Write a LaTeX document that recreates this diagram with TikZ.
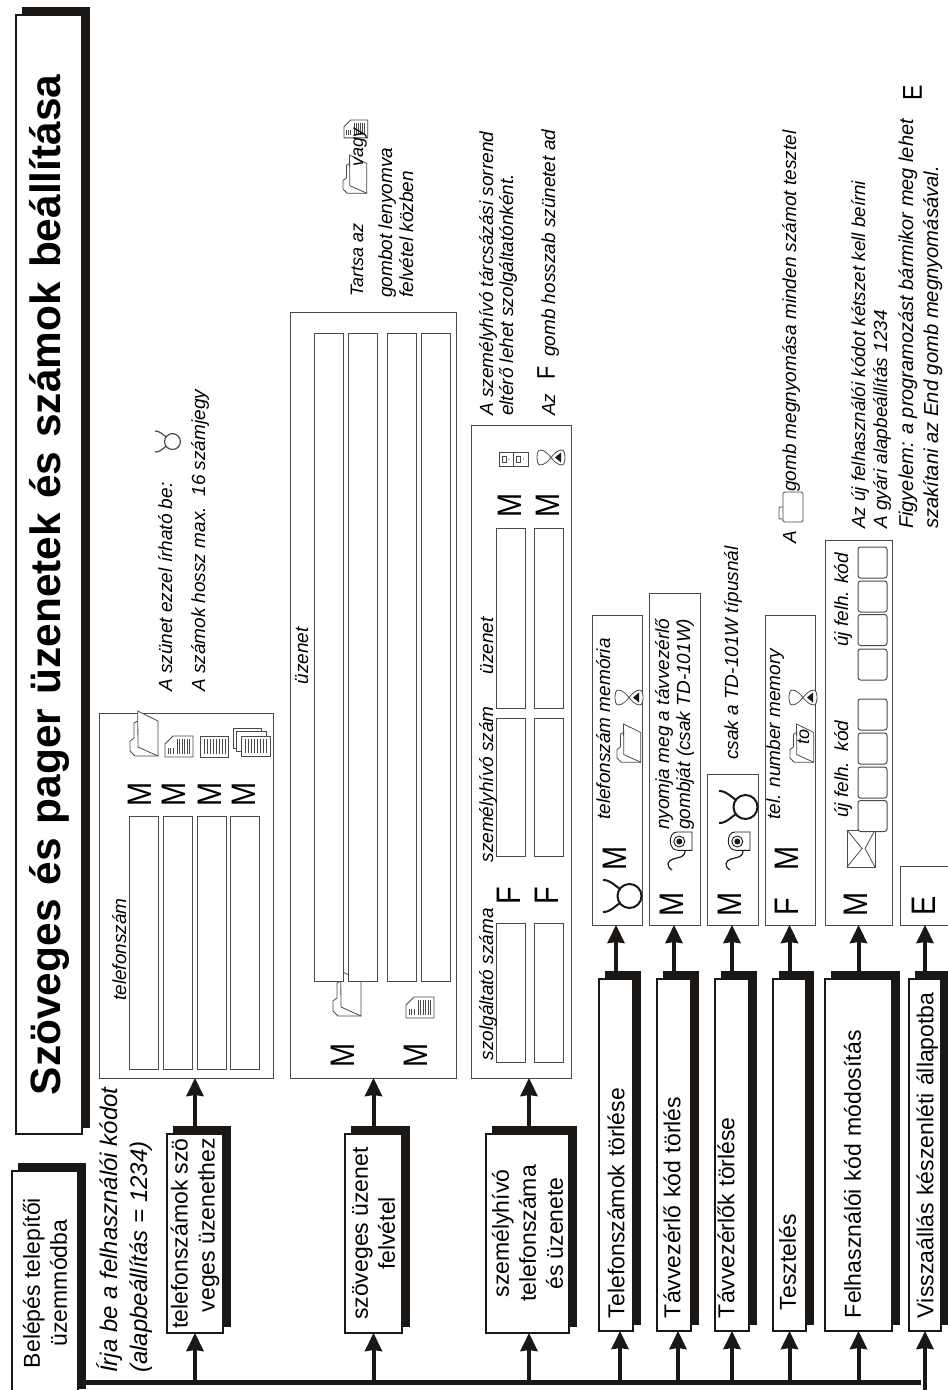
\documentclass[tikz,border=0pt]{standalone}
\usepackage{fontspec}
\setmainfont{Liberation Sans}
\usetikzlibrary{arrows.meta}
\definecolor{ink}{HTML}{1A1715}
\definecolor{rule}{HTML}{4A4A48}
\begin{document}
\begin{tikzpicture}
[
    x=1pt, y=-1pt,
    bigbox/.style={rotate=90, draw=ink, fill=white, line width=1.3, inner sep=0, outer sep=0,
        preaction={fill=ink, draw=ink, transform canvas={xshift=7pt, yshift=7pt}},
        font=\fontsize{23}{27}\selectfont, align=center},
    longbox/.style={bigbox, minimum height=34, inner xsep=13, text width=326, align=left,
        text height=16.5, text depth=0},
    panel/.style={draw=rule, fill=white, line width=1, inner sep=0, outer sep=0},
    slot/.style={panel, minimum width=29},
    cell/.style={panel, rounded corners=2.5, minimum width=29, minimum height=31},
    keycap/.style={rotate=90, xscale=.85, inner sep=0, font=\fontsize{34}{34}\selectfont},
    note/.style={rotate=90, anchor=base west, inner sep=0, font=\itshape\fontsize{19}{23}\selectfont},
    noteend/.style={note, anchor=base east},
    bus/.style={draw=ink, line width=5},
    arr/.style={draw=ink, line width=4, -{Stealth[length=18pt, width=17pt, inset=1pt]}},
    icon/.style={draw=rule, line width=.8},
    bullink/.style={draw=ink, line width=2},
    folderpic/.pic={
        \draw[icon, fill=white] (7.7,10) -- (4,12) -- (4,27) -- (0,30) -- (0,40) -- (5,45) -- (28,45);
        \draw[icon, fill=white] (7.7,0) -- (28,10) -- (28,45) -- (8,36) -- cycle;},
    pagepic/.pic={
        \draw[icon] (0,8) -- (8,0) -- (28,0) -- (28,21) -- (0,21) -- cycle;
        \foreach \i in {12,14.5,17,19.5,22,24.5} \draw[icon] (\i,3) -- (\i,18);
        \foreach \i in {3,5.5,8} \draw[icon] (\i,12) -- (\i,18);},
    barspic/.pic={
        \draw[icon] (0,0) rectangle (28,21);
        \foreach \i in {4,7,10,13,16,19,22,25} \draw[icon] (\i,3) -- (\i,18);},
    stackpic/.pic={
        \draw[icon, fill=white] (0,0) rectangle (28,20);
        \draw[icon, fill=white] (3.5,3.5) rectangle (33,23.5);
        \draw[icon, fill=white] (8,8) rectangle (37,28);
        \foreach \i in {12,15,18,21,24,27,30,33} \draw[icon] (\i,11) -- (\i,25);},
    bullpic/.pic={
        \draw[bullink] (26.5,16) circle (12);
        \draw[bullink] (0,0) .. controls (8,0) and (12,6) .. (17,9);
        \draw[bullink] (0,32) .. controls (8,32) and (12,26) .. (17,23);},
    hourpic/.pic={
        \draw[icon, fill=white] (3,0) .. controls (8,0) and (12,5) .. (14,7.5)
            .. controls (16,5) and (20,0) .. (25,0) .. controls (29,0) and (29,15) .. (25,15)
            .. controls (20,15) and (16,10) .. (14,7.5) .. controls (12,10) and (8,15) .. (3,15)
            .. controls (-1,15) and (-1,0) .. (3,0);
        \fill[ink] (18,7.5) -- (24,2.5) -- (24,12.5) -- cycle;},
    dualpic/.pic={
        \draw[icon] (0,0) rectangle (29,14);
        \draw[icon] (14.5,0) -- (14.5,14);
        \draw[icon] (3,4) rectangle (7,10);
        \draw[icon] (17.5,4) rectangle (21.5,10);
        \fill[rule] (10,7) circle (.7);
        \fill[rule] (24.5,7) circle (.7);},
    remotepic/.pic={
        \draw[draw=ink, line width=.9] (25,0) -- (10,0) .. controls (5,0) and (3.3,5) .. (3.3,9)
            .. controls (3.3,14) and (6,18.3) .. (11,18.3) -- (25,18.3) -- cycle;
        \draw[draw=ink, line width=.9] (12.3,9.5) circle (5.5);
        \fill[ink] (12.3,9.5) circle (3);
        \draw[draw=ink, line width=1.2] (18,18.3) .. controls (18,26) and (12,25) .. (6,27)
            .. controls (0,29) and (-1,34) .. (5,38);},
    envelopepic/.pic={
        \draw[icon] (0,0) rectangle (28,37);
        \draw[icon] (0,0) -- (15,18.5) -- (0,37);
        \draw[icon] (28,0) -- (18,18.5) -- (28,37);},
    buttonpic/.pic={
        \draw[icon, rounded corners=1.5] (4,0) rectangle (24,30);
        \draw[icon, rounded corners=1] (4,15) -- (0,15) -- (0,27) -- (4,27);},
]
\useasboundingbox (0,0) rectangle (948,1390);
\node [bigbox, minimum width=1119, minimum height=66, inner xsep=39, text width=1041, align=left,
    font=\bfseries\fontsize{42.4}{46}\selectfont] (title) at (49,574.5)
{\raisebox{-2pt}{Szöveges és pager üzenetek és számok beállítása}};
\node [bigbox, minimum width=224, minimum height=66] (entry) at (45,1283)
{Belépés telepítői\\üzemmódba};
\node [note, font=\itshape\fontsize{24}{28}\selectfont] (askline) at (117,1373) {Írja be a felhasználói kódot};
\node [note, font=\itshape\fontsize{24}{28}\selectfont] (askcode) at (147,1373) {(alapbeállítás = 1234)};
\node [bigbox, minimum width=199, minimum height=56, align=right] (bnums) at (195,1233.5)
{telefonszámok szö\\veges üzenethez};
\node [bigbox, minimum width=199, minimum height=57] (btext) at (373.5,1233.5)
{szöveges üzenet\\felvétel};
\node [bigbox, minimum width=199, minimum height=83] (bpager) at (527.5,1233.5)
{személyhívó\\telefonszáma\\és üzenete};
\node [longbox] (bdelnum) at (616,1155) {Telefonszámok törlése};
\node [longbox] (bdelcode) at (674,1155) {\raisebox{2pt}{Távvezérlő kód törlés}};
\node [longbox] (bdelremote) at (732,1155) {\raisebox{6pt}{Távvezérlők törlése}};
\node [longbox, minimum height=33] (btest) at (789.5,1155) {\raisebox{2pt}{\hspace*{8pt}Tesztelés}};
\node [longbox, minimum height=67] (bcode) at (858.5,1155) {\raisebox{6pt}{Felhasználói kód módosítás}};
\node [longbox, minimum height=32] (bready) at (925,1155) {Visszaállás készenléti állapotba};
\node [panel, minimum width=174, minimum height=365] (pnums) at (186,895.5) {};
\node [panel, minimum width=166, minimum height=766] (ptext) at (373,695) {};
\node [panel, minimum width=100, minimum height=653] (ppager) at (521,751.5) {};
\node [panel, minimum width=50, minimum height=310] (pdelnum) at (617,770) {};
\node [panel, minimum width=51, minimum height=332] (pdelcode) at (674.5,759) {};
\node [panel, minimum width=51, minimum height=151] (pdelremote) at (732.5,849.5) {};
\node [panel, minimum width=50, minimum height=310] (ptest) at (790,770) {};
\node [panel, minimum width=67, minimum height=385] (pcode) at (858.5,732.5) {};
\node [panel, minimum width=55, minimum height=59] (pready) at (927.5,895.5) {};
\pic (fa) at (130,711) {folderpic};
\pic (pa) at (165,736) {pagepic};
\pic (ba) at (200,736) {barspic};
\pic (sa) at (233,728) {stackpic};
\pic (fb) at (333,971) {folderpic};
\pic (pb) at (406,997) {pagepic};
\pic (dual) at (499,452) {dualpic};
\pic (hpager) at (537,450) {hourpic};
\node [slot, minimum height=253] (na) at (143.5,942.5) {};
\node [slot, minimum height=253] (nb) at (177.5,942.5) {};
\node [slot, minimum height=253] (nc) at (211.5,942.5) {};
\node [slot, minimum height=253] (nd) at (244.5,942.5) {};
\node [slot, minimum height=648] (ta) at (328.5,657) {};
\node [slot, minimum height=648] (tb) at (362.5,657) {};
\node [slot, minimum height=648] (tc) at (401.5,657) {};
\node [slot, minimum height=648] (td) at (435.5,657) {};
\node [slot, minimum height=180] (ua) at (510.5,618) {};
\node [slot, minimum height=180] (ub) at (548.5,618) {};
\node [slot, minimum height=138] (sza) at (510.5,787) {};
\node [slot, minimum height=138] (szb) at (548.5,787) {};
\node [slot, minimum height=139] (ga) at (510.5,992.5) {};
\node [slot, minimum height=139] (gb) at (548.5,992.5) {};
\node [keycap] (ma) at (140,794) {M};
\node [keycap] (mb) at (174,794) {M};
\node [keycap] (mc) at (210,794) {M};
\node [keycap] (md) at (244,794) {M};
\node [keycap] (me) at (343,1055.5) {M};
\node [keycap] (mf) at (416,1055.5) {M};
\node [keycap] (mg) at (510,505.5) {M};
\node [keycap] (mh) at (548,505.5) {M};
\node [keycap] (fa1) at (509,896) {F};
\node [keycap] (fb1) at (547,896) {F};
\node [noteend] (lnum) at (126,898) {telefonszám};
\node [noteend] (lmsg) at (308,627) {üzenet};
\node [noteend] (lprov) at (493,908) {szolgáltató száma};
\node [noteend] (lcall) at (493,706) {személyhívó szám};
\node [noteend] (lmsgb) at (493,617) {üzenet};
\node [note] (pausea) at (172,692) {A szünet ezzel írható be:};
\node [note] (pauseb) at (205,692) {A számok hossz max.~~16 számjegy};
\pic[scale=.66, bullink/.style={draw=rule, line width=1.2}] (bullnote) at (155,431) {bullpic};
\node [note, font=\itshape\fontsize{18}{22}\selectfont] (holda) at (363,297) {Tartsa az};
\pic[scale=.85] (fhold) at (343,155) {folderpic};
\pic[scale=.85] (phold) at (344,120) {pagepic};
\node [note, font=\itshape\fontsize{18}{22}\selectfont] (holdor) at (363,167) {vagy};
\node [note] (holdb) at (392,298) {gombot lenyomva};
\node [note] (holdc) at (413,298) {felvétel közben};
\node [note] (seqa) at (493,416) {A személyhívó tárcsázási sorrend};
\node [note] (seqb) at (513,416) {eltérő lehet szolgáltatónként.};
\node [note] (fkeya) at (555,416) {Az};
\node [keycap, scale=.75] (fkey) at (546,373) {F};
\node [note] (fkeyb) at (555,357) {gomb hosszab szünetet ad};
\pic (bullnum) at (603,880) {bullpic};
\node [keycap] (mdn) at (615,858) {M};
\node [note] (ldn) at (610,820) {telefonszám memória};
\pic[scale=.85] (fdn) at (617,724) {folderpic};
\pic (hdn) at (615,690) {hourpic};
\node [keycap] (mdc) at (672,904) {M};
\pic (rdc) at (667,832) {remotepic};
\node [note] (ldca) at (669,830) {nyomja meg a távvezérlő};
\node [note] (ldcb) at (690,830) {gombját (csak TD-101W)};
\node [keycap] (mdr) at (730,904) {M};
\pic (rdr) at (725,832) {remotepic};
\pic (bulldr) at (719,791) {bullpic};
\node [note] (ldr) at (738,760) {csak a TD-101W típusnál};
\node [keycap] (ftest) at (787,907) {F};
\node [keycap] (mtest) at (787,858) {M};
\node [note] (ltest) at (780,820) {tel. number memory};
\pic[scale=.85] (ftesti) at (790,724) {folderpic};
\node [note, font=\itshape\fontsize{18}{22}\selectfont] (ltestb) at (809,745) {to};
\pic (htest) at (789,690) {hourpic};
\node [keycap] (mcode) at (856,904) {M};
\pic (env) at (847,830) {envelopepic};
\node [note] (lcodea) at (848,818) {új felh.~~kód};
\node [note] (lcodeb) at (848,647) {új felh. kód};
\node [cell] (ca) at (872.5,816) {};
\node [cell] (cb) at (872.5,782.5) {};
\node [cell] (cc) at (872.5,748.5) {};
\node [cell] (cd) at (872.5,714.5) {};
\node [cell] (ce) at (872.5,664.5) {};
\node [cell] (cf) at (872.5,630) {};
\node [cell] (cg) at (872.5,596.5) {};
\node [cell] (ch) at (872.5,562.5) {};
\node [keycap] (eready) at (924,906) {E};
\node [note] (testa) at (796,544) {A};
\pic (btn) at (779,492) {buttonpic};
\node [note] (testb) at (796,492) {gomb megnyomása minden számot tesztel};
\node [note, font=\itshape\fontsize{18.8}{23}\selectfont] (codea) at (865,529) {Az új felhasználói kódot kétszet kell beírni};
\node [note] (codeb) at (887,529) {A gyári alapbeállítás 1234};
\node [note, font=\itshape\fontsize{20}{24}\selectfont] (warna) at (913,529) {Figyelem: a programozást bármikor meg lehet};
\node [keycap, scale=.8] (eend) at (912.5,92.5) {E};
\node [note, font=\itshape\fontsize{20.2}{24}\selectfont] (warnb) at (938,529) {szakítani az End gomb megnyomásával.};
\coordinate (busl) at (86,1382);
\coordinate (busr) at (921,1382);
\coordinate (busend) at (926,1392);
\draw [bus] (busl) -- (busr);
\draw [arr] (bnums.west |- busl) -- (bnums.west);
\draw [arr] (btext.west |- busl) -- (btext.west);
\draw [arr] ([xshift=1.5pt]bpager.west |- busl) -- ([xshift=1.5pt]bpager.west);
\draw [arr] ([xshift=4pt]bdelnum.west |- busl) -- ([xshift=4pt]bdelnum.west);
\draw [arr] ([xshift=4pt]bdelcode.west |- busl) -- ([xshift=4pt]bdelcode.west);
\draw [arr] (bdelremote.west |- busl) -- (bdelremote.west);
\draw [arr] (btest.west |- busl) -- (btest.west);
\draw [arr] (bcode.west |- busl) -- (bcode.west);
\draw [arr] (bready.west |- busend) -- (bready.west);
\draw [arr] ([yshift=7pt]bnums.east) -- (bnums.east |- pnums.south);
\draw [arr] ([yshift=7pt]btext.east) -- (btext.east |- ptext.south);
\draw [arr] ([xshift=1.5pt,yshift=7pt]bpager.east) -- ([xshift=1.5pt]bpager.east |- ppager.south);
\draw [arr] ([yshift=7pt]bdelnum.east) -- (bdelnum.east |- pdelnum.south);
\draw [arr] ([yshift=7pt]bdelcode.east) -- (bdelcode.east |- pdelcode.south);
\draw [arr] ([yshift=7pt]bdelremote.east) -- (bdelremote.east |- pdelremote.south);
\draw [arr] ([yshift=7pt]btest.east) -- (btest.east |- ptest.south);
\draw [arr] ([yshift=7pt]bcode.east) -- (bcode.east |- pcode.south);
\draw [arr] ([yshift=7pt]bready.east) -- (bready.east |- pready.south);
\end{tikzpicture}
\end{document}
